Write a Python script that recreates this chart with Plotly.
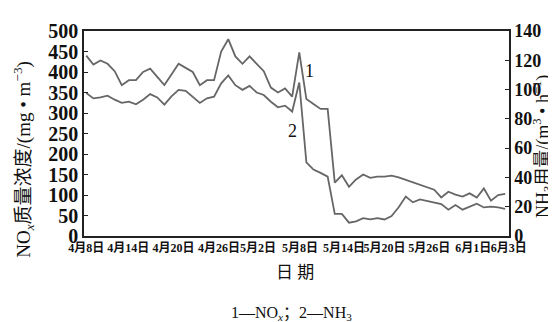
import plotly.graph_objects as go

# ---- data (daily series, index 0 = 4月8日) ----
day_index = list(range(60))
nox = [440, 418, 428, 420, 402, 368, 380, 380, 400, 408,
       388, 368, 394, 420, 410, 400, 368, 380, 380, 450,
       480, 438, 420, 438, 420, 402, 362, 350, 360, 340,
       448, 334, 322, 310, 310, 130, 148, 120, 138, 150,
       142, 145, 145, 147, 143, 137, 131, 125, 120, 113,
       94, 108, 101, 96, 104, 94, 116, 86, 100, 103]
nh3 = [97.6, 94.0, 94.6, 95.8, 93.1, 90.9, 91.7, 89.9, 93.1, 96.9,
       94.6, 89.7, 95.3, 99.8, 99.1, 95.3, 90.9, 94.0, 95.1, 104.3,
       109.7, 103.0, 99.8, 102.5, 98.0, 96.3, 91.7, 87.9, 89.0, 85.0,
       104.8, 50.3, 45.4, 43.1, 40.5, 15.1, 15.1, 9.1, 10.0, 12.2,
       11.3, 12.2, 11.3, 13.6, 19.6, 27.0, 23.0, 25.0, 24.0, 23.0,
       21.8, 18.0, 21.2, 18.0, 20.0, 22.0, 19.5, 20.0, 19.5, 18.5]
tick_labels = ["4月8日", "4月14日", "4月20日", "4月26日", "5月2日", "5月8日",
               "5月14日", "5月20日", "5月26日", "6月1日", "6月3日"]
tick_idx = [0, 5.9, 12.3, 18.7, 24.2, 30.1, 36.3, 42.0, 48.3, 54.5, 59.5]

SERIF = "Liberation Serif, Times New Roman, Noto Sans CJK SC, serif"
LINE = "#666666"
AX = "#222222"

fig = go.Figure()
fig.add_trace(go.Scatter(x=day_index, y=nox, mode="lines",
                         line=dict(color=LINE, width=1.8), yaxis="y",
                         showlegend=False))
fig.add_trace(go.Scatter(x=day_index, y=nh3, mode="lines",
                         line=dict(color=LINE, width=1.8), yaxis="y2",
                         showlegend=False))

fig.update_layout(
    width=556, height=322,
    margin=dict(l=76, r=55, t=19, b=94),
    paper_bgcolor="white", plot_bgcolor="white",
    font=dict(family=SERIF, color="#111111"),
    xaxis=dict(range=[-0.32, 59.54], tickmode="array", tickvals=tick_idx,
               ticktext=tick_labels,
               tickfont=dict(size=12, family=SERIF, weight="bold"),
               showgrid=False, zeroline=False, showline=True, linecolor=AX,
               linewidth=1.5, mirror=True, ticks="", tickangle=0),
    yaxis=dict(range=[0, 500], dtick=50, showgrid=False, zeroline=False,
               showline=True, linecolor=AX, linewidth=1.5, ticks="inside",
               ticklen=4, tickcolor=AX,
               tickfont=dict(size=20, family=SERIF, weight="bold")),
    yaxis2=dict(range=[0, 140], dtick=20, overlaying="y", side="right",
                showgrid=False, zeroline=False, showline=True, linecolor=AX,
                linewidth=1.5, ticks="inside", ticklen=4, tickcolor=AX,
                tickfont=dict(size=18, family=SERIF, weight="bold")),
)

anns = [
    dict(text="NO<sub><i>x</i></sub>质量浓度/(mg • m<sup>−3</sup>)",
         x=(16 - 76) / 425, y=(227.5 - 150) / 208.5, textangle=-90,
         font=dict(size=19)),
    dict(text="NH<sub>3</sub>用量/(m<sup>3</sup> • h<sup>−1</sup>)",
         x=(534 - 76) / 425, y=(227.5 - 137) / 208.5, textangle=-90,
         font=dict(size=18)),
    dict(text="日 期", x=(287 - 76) / 425, y=(227.5 - 265) / 208.5,
         font=dict(size=17)),
    dict(text="1—NO<sub><i>x</i></sub>；2—NH<sub>3</sub>",
         x=(283 - 76) / 425, y=(227.5 - 306) / 208.5, font=dict(size=16)),
]
for a in anns:
    fig.add_annotation(xref="paper", yref="paper", showarrow=False,
                       xanchor="center", yanchor="middle", **a)

fig.add_annotation(x=31.5, y=402, xref="x", yref="y", text="1", showarrow=False,
                   font=dict(size=18, family=SERIF))
fig.add_annotation(x=29.1, y=256, xref="x", yref="y", text="2", showarrow=False,
                   font=dict(size=18, family=SERIF))

fig.write_html("out.html")
